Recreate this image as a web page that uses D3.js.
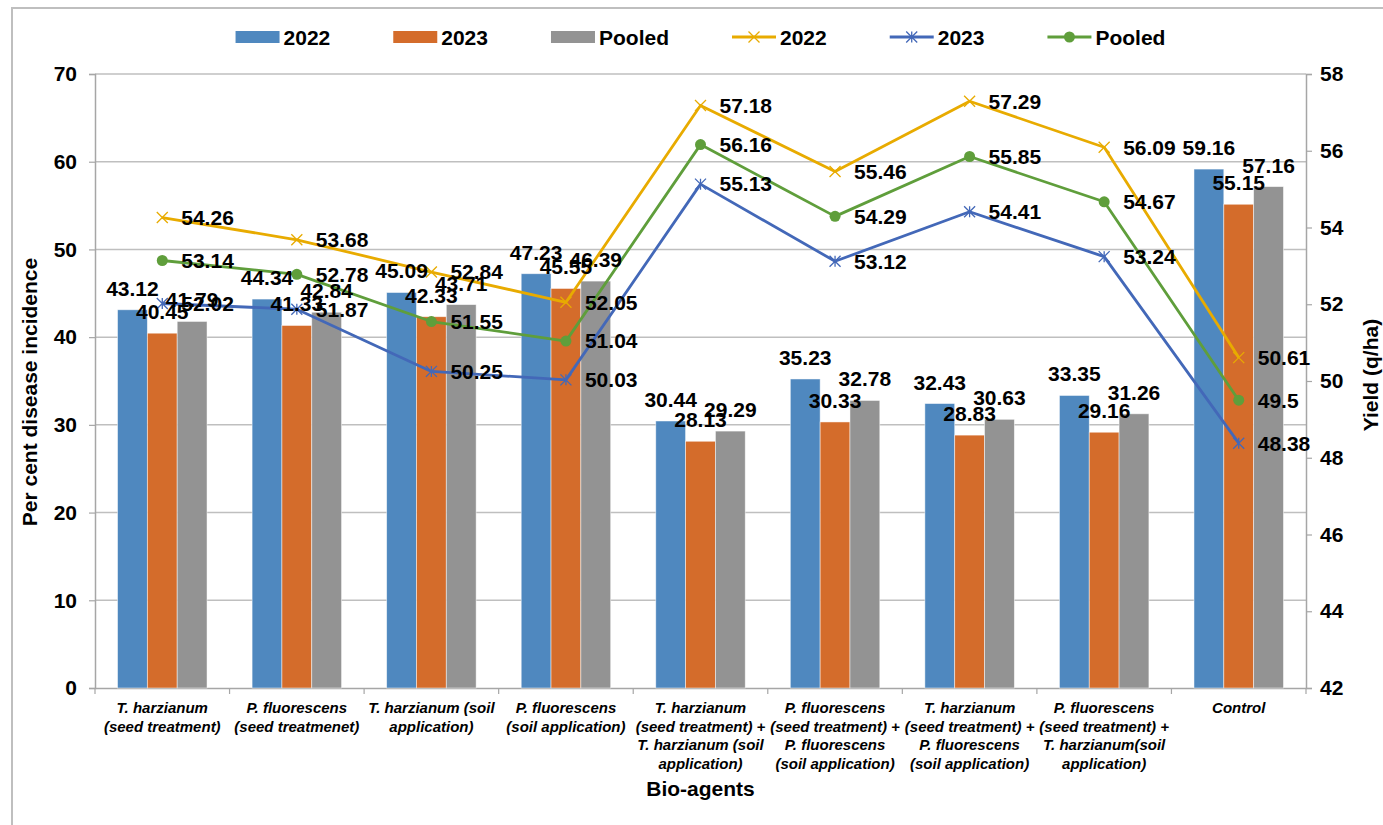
<!DOCTYPE html>
<html>
<head>
<meta charset="utf-8">
<script src="https://cdn.jsdelivr.net/npm/d3@7"></script>
<style>
  body { margin: 0; background: #ffffff; }
  svg text { font-family: "Liberation Sans", Arial, sans-serif; font-weight: bold; fill: #000; }
</style>
</head>
<body>
<div id="chart"></div>
<script>
// categories (each label split in its display lines)
var categories = [
    ["T. harzianum", "(seed treatment)"],
    ["P. fluorescens", "(seed treatmenet)"],
    ["T. harzianum (soil", "application)"],
    ["P. fluorescens", "(soil application)"],
    ["T. harzianum", "(seed treatment) +", "T. harzianum (soil", "application)"],
    ["P. fluorescens", "(seed treatment) +", "P. fluorescens", "(soil application)"],
    ["T. harzianum", "(seed treatment) +", "P. fluorescens", "(soil application)"],
    ["P. fluorescens", "(seed treatment) +", "T. harzianum(soil", "application)"],
    ["Control"]
];

// per cent disease incidence (bars)
var incidence2022 = [43.12, 44.34, 45.09, 47.23, 30.44, 35.23, 32.43, 33.35, 59.16];
var incidence2023 = [40.45, 41.33, 42.33, 45.55, 28.13, 30.33, 28.83, 29.16, 55.15];
var incidencePooled = [41.79, 42.84, 43.71, 46.39, 29.29, 32.78, 30.63, 31.26, 57.16];

// yield q/ha (lines)
var yield2022 = [54.26, 53.68, 52.84, 52.05, 57.18, 55.46, 57.29, 56.09, 50.61];
var yield2023 = [52.02, 51.87, 50.25, 50.03, 55.13, 53.12, 54.41, 53.24, 48.38];
var yieldPooled = [53.14, 52.78, 51.55, 51.04, 56.16, 54.29, 55.85, 54.67, 49.5];

var leftTicks = [0, 10, 20, 30, 40, 50, 60, 70];
var rightTicks = [42, 44, 46, 48, 50, 52, 54, 56, 58];

function renderChart(){

    //Step1:- Frame
    var svgWidth = 1383, svgHeight = 825;
    var margin = {top: 74, right: 77, bottom: 137, left: 95};
    var width = svgWidth - margin.left - margin.right;
    var height = svgHeight - margin.top - margin.bottom;

    var barSeries = [
        {name: "2022", values: incidence2022, color: "#4f88bf"},
        {name: "2023", values: incidence2023, color: "#d46c2b"},
        {name: "Pooled", values: incidencePooled, color: "#939393"}
    ];
    var lineSeries = [
        {name: "2022", values: yield2022, color: "#e8ab00", marker: "x"},
        {name: "2023", values: yield2023, color: "#4368b8", marker: "star"},
        {name: "Pooled", values: yieldPooled, color: "#5f9e3b", marker: "circle"}
    ];

    var svg = d3.select("#chart").append("svg")
        .attr("width", svgWidth)
        .attr("height", svgHeight);

    svg.append("rect")
        .attr("x", 12).attr("y", 8)
        .attr("width", svgWidth).attr("height", svgHeight)
        .attr("fill", "#fff")
        .attr("stroke", "#bfbfbf")
        .attr("stroke-width", 2);

    var chartGroup = svg.append("g")
        .attr("transform", `translate(${margin.left}, ${margin.top})`);

    //Step2:- Scales
    var idx = d3.range(categories.length);
    var xScale = d3.scaleBand().domain(idx).range([0, width]).padding(0);
    var groupW = xScale.bandwidth() * 0.665;
    var x1 = d3.scaleBand().domain([0, 1, 2])
        .range([(xScale.bandwidth() - groupW) / 2, (xScale.bandwidth() + groupW) / 2]);
    var yLeft = d3.scaleLinear().domain([0, 70]).range([height, 0]);
    var yRight = d3.scaleLinear().domain([42, 58]).range([height, 0]);
    var cx = i => xScale(i) + xScale.bandwidth() / 2;

    //Step3:- Gridlines
    chartGroup.append("g").selectAll("line")
        .data(leftTicks.slice(1))
        .enter().append("line")
        .attr("x1", 0).attr("x2", width)
        .attr("y1", d => yLeft(d)).attr("y2", d => yLeft(d))
        .attr("stroke", "#bfbfbf").attr("stroke-width", 1.5);

    //Step4:- Axes
    var leftAxis = d3.axisLeft(yLeft).tickValues(leftTicks).tickSize(6).tickPadding(12);
    var rightAxis = d3.axisRight(yRight).tickValues(rightTicks).tickSize(6).tickPadding(8);
    var bottomAxis = d3.axisBottom(xScale).tickSize(0).tickFormat("");

    var yAxisL = chartGroup.append("g").call(leftAxis);
    var yAxisR = chartGroup.append("g").attr("transform", `translate(${width}, 0)`).call(rightAxis);
    var xAxis = chartGroup.append("g").attr("transform", `translate(0, ${height})`).call(bottomAxis);

    [yAxisL, yAxisR, xAxis].forEach(function(ax){
        ax.select(".domain").attr("stroke", "#a6a6a6").attr("stroke-width", 1.5);
        ax.selectAll(".tick line").attr("stroke", "#a6a6a6").attr("stroke-width", 1.2);
        ax.selectAll("text").style("font-size", "21px").attr("fill", "#000");
    });

    // category boundary ticks
    xAxis.append("g").selectAll("line")
        .data(d3.range(categories.length + 1))
        .enter().append("line")
        .attr("x1", d => d * xScale.bandwidth()).attr("x2", d => d * xScale.bandwidth())
        .attr("y1", 0).attr("y2", 6)
        .attr("stroke", "#a6a6a6").attr("stroke-width", 1.2);

    // category labels
    var catLabels = chartGroup.append("g").selectAll("text")
        .data(categories)
        .enter().append("text")
        .attr("text-anchor", "middle")
        .style("font-size", "15px")
        .style("font-style", "italic");
    catLabels.each(function(lines, i){
        d3.select(this).selectAll("tspan")
            .data(lines)
            .enter().append("tspan")
            .attr("x", cx(i))
            .attr("y", (d, j) => height + 25 + j * 18.6)
            .text(d => d);
    });

    //Step5:- Bars
    barSeries.forEach(function(s, k){
        chartGroup.append("g").selectAll("rect")
            .data(s.values)
            .enter().append("rect")
            .attr("x", (d, i) => xScale(i) + x1(k))
            .attr("width", x1.bandwidth())
            .attr("y", d => yLeft(d))
            .attr("height", d => height - yLeft(d))
            .attr("fill", s.color)
            .attr("stroke", "#ffffff")
            .attr("stroke-opacity", 0.6)
            .attr("stroke-width", 0.8);
    });

    //Step6:- Lines + markers
    lineSeries.forEach(function(s){
        var line = d3.line().x((d, i) => cx(i)).y(d => yRight(d));
        chartGroup.append("path")
            .datum(s.values)
            .attr("d", line)
            .attr("fill", "none")
            .attr("stroke", s.color)
            .attr("stroke-width", 2.8)
            .attr("stroke-linejoin", "round");
        var mk = chartGroup.append("g").selectAll("g")
            .data(s.values)
            .enter().append("g")
            .attr("transform", (d, i) => `translate(${cx(i)}, ${yRight(d)})`);
        drawMarker(mk, s.marker, s.color);
    });

    //Step7:- Data labels
    barSeries.forEach(function(s, k){
        chartGroup.append("g").selectAll("text")
            .data(s.values)
            .enter().append("text")
            .attr("x", (d, i) => xScale(i) + x1(k) + x1.bandwidth() / 2)
            .attr("y", d => yLeft(d) - 14)
            .attr("text-anchor", "middle")
            .style("font-size", "21px")
            .text(d => d);
    });
    lineSeries.forEach(function(s){
        chartGroup.append("g").selectAll("text")
            .data(s.values)
            .enter().append("text")
            .attr("x", (d, i) => cx(i) + 19)
            .attr("y", d => yRight(d))
            .attr("dy", "0.35em")
            .style("font-size", "21px")
            .text(d => d);
    });

    //Step8:- Axis titles
    chartGroup.append("text")
        .attr("transform", "rotate(-90)")
        .attr("x", -(height / 2 + 11))
        .attr("y", -58)
        .attr("text-anchor", "middle")
        .style("font-size", "21px")
        .text("Per cent disease incidence");
    chartGroup.append("text")
        .attr("transform", "rotate(-90)")
        .attr("x", -(height / 2 - 6))
        .attr("y", width + 72)
        .attr("text-anchor", "middle")
        .style("font-size", "21px")
        .text("Yield (q/ha)");
    chartGroup.append("text")
        .attr("x", width / 2)
        .attr("y", height + 108)
        .attr("text-anchor", "middle")
        .style("font-size", "21px")
        .text("Bio-agents");

    //Step9:- Legend (centered over plot)
    var legend = svg.append("g");
    var items = barSeries.map(s => ({name: s.name, color: s.color, type: "bar"}))
        .concat(lineSeries.map(s => ({name: s.name, color: s.color, type: "line", marker: s.marker})));
    var lx = 0;
    items.forEach(function(it){
        var g = legend.append("g").attr("transform", `translate(${lx}, 37)`);
        if (it.type == "bar"){
            g.append("rect").attr("x", 0).attr("y", -6).attr("width", 44).attr("height", 12).attr("fill", it.color);
        } else {
            g.append("line").attr("x1", 0).attr("x2", 44).attr("y1", 0).attr("y2", 0)
                .attr("stroke", it.color).attr("stroke-width", 2.8);
            drawMarker(g.append("g").attr("transform", "translate(22,0)"), it.marker, it.color);
        }
        var t = g.append("text").attr("x", 48).attr("dy", "0.36em").style("font-size", "21px").text(it.name);
        lx += 48 + t.node().getComputedTextLength() + 63;
    });
    var legendW = lx - 63;
    legend.attr("transform", `translate(${margin.left + width / 2 - legendW / 2}, 0)`);
}

function drawMarker(sel, type, color){
    var r = 5.5;
    if (type == "circle"){
        sel.append("circle").attr("r", r).attr("fill", color);
    } else {
        sel.append("path")
            .attr("d", `M${-r},${-r}L${r},${r}M${-r},${r}L${r},${-r}` + (type == "star" ? `M0,${-r}L0,${r}` : ""))
            .attr("stroke", color)
            .attr("stroke-width", 1.3)
            .attr("fill", "none");
    }
}

renderChart();
</script>
</body>
</html>
